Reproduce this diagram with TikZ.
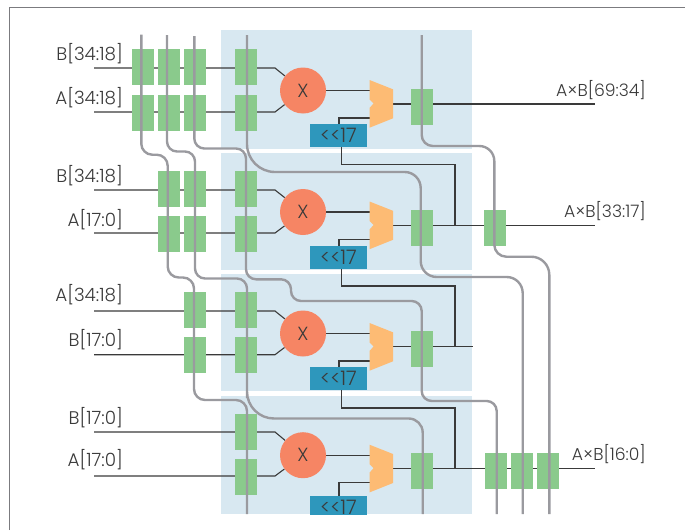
\documentclass[tikz,border=0pt]{standalone}
\usepackage{fontspec}
\setmainfont{Poppins}[UprightFont=* Light]
\usetikzlibrary{calc}
\pgfdeclarelayer{panellayer}
\pgfdeclarelayer{wirelayer}
\pgfsetlayers{panellayer,wirelayer,main}
\definecolor{panelblue}{HTML}{D8E8F1}
\definecolor{regreen}{HTML}{8ACA8C}
\definecolor{mulred}{HTML}{F68564}
\definecolor{muxorange}{HTML}{FDBB74}
\definecolor{shiftblue}{HTML}{2E97BC}
\definecolor{busgray}{HTML}{9A9A9F}
\definecolor{inkgray}{HTML}{3A3A3A}
\tikzset{
  x=1pt,y=-1pt,
  panelbox/.style={fill=panelblue,draw=none,inner sep=0,minimum width=251pt,anchor=north west},
  reg/.style={fill=regreen,draw=none,inner sep=0,minimum width=22pt,minimum height=36pt},
  mult/.style={circle,fill=mulred,draw=none,inner sep=0,minimum size=46pt,font=\fontsize{19}{19}\selectfont,text=inkgray},
  shifter/.style={fill=shiftblue,draw=none,inner sep=0,minimum width=57pt,minimum height=23pt,font=\fontsize{20}{20}\selectfont,text=inkgray},
  muxanchor/.style={inner sep=0,minimum width=23.5pt,minimum height=48pt},
  wire/.style={draw=inkgray,line width=1.1pt},
  busl/.style={draw=busgray,line width=2.4pt},
  lab/.style={font=\fontsize{18.3}{19}\selectfont,text=inkgray,inner sep=0},
  labr/.style={font=\fontsize{17.2}{18}\selectfont,text=inkgray,inner sep=0},
}
\begin{document}
\begin{tikzpicture}
\useasboundingbox (0,0) rectangle (685,530);
\draw[busgray!80!black,line width=1pt] (9,530) -- (9,7) -- (685,7);
% panels
\begin{pgfonlayer}{panellayer}
\node[panelbox,minimum height=118.5pt] (p1) at (221,30) {};
\node[panelbox,minimum height=117pt] (p2) at (221,153) {};
\node[panelbox,minimum height=117pt] (p3) at (221,274) {};
\node[panelbox,minimum height=118.3pt] (p4) at (221,395.7) {};
\end{pgfonlayer}
% input-side registers
\foreach \nm/\xx/\yy in {a1/143/67,a2/169/67,a3/195/67,b1/143/113,b2/169/113,b3/195/113,
  c2/169/189,c3/195/189,d2/169/234,d3/195/234,e3/195/310,f3/195/355}
  {\node[reg] (\nm) at (\xx,\yy) {};}
\foreach \nm/\yy in {a4/67,b4/113,c4/189,d4/234,e4/310,f4/355,g4/432,h4/477}
  {\node[reg] (\nm) at (246,\yy) {};}
% multiplier stages
\foreach \n/\dy/\oy/\ry in {1/0/104/107,2/121.5/225.7/228,3/243/346.7/349,4/364.7/468.3/471}{
  \node[mult] (m\n) at (303,90.5+\dy) {X};
  \node[muxanchor] (x\n) at (381.2,104+\dy) {};
  \fill[muxorange] (369.5,80+\dy) -- (393,89.3+\dy) -- (393,118.3+\dy) -- (369.5,127.7+\dy)
     -- (369.5,108+\dy) -- (373.5,103.5+\dy) -- (369.5,99.5+\dy) -- cycle;
  \node[reg] (o\n) at (422,\ry) {};
  \coordinate (oe\n) at (393,\oy);
  \coordinate (mu\n) at (369.5,90.5+\dy);
  \coordinate (ml\n) at (369.5,118+\dy);
}
\node[shifter] (s1) at (338.5,135.5) {<{}<17};
\node[shifter] (s2) at (338.5,257.5) {<{}<17};
\node[shifter] (s3) at (338.5,378.5) {<{}<17};
\begin{scope}
\clip (300,490) rectangle (380,514);
\node[shifter] (s4) at (338.5,507.5) {<{}<17};
\end{scope}
% output registers
\node[reg] (r2) at (495,228) {};
\node[reg] (t1) at (496,471) {};
\node[reg] (t2) at (522,471) {};
\node[reg] (t3) at (548,471) {};
% free ends
\foreach \nm/\xx/\yy in {ia/94/68,ib/94/112,ic/94/190,id/94/233,ie/94/311,if/94/354.7,ig/94/432,ih/94/476,
  oa/595/104,ob/595/225.7,oc/473/346.7,od/595/468.3,
  ja/455/225.7,jb/455/346.7,jc/455/468.3}
  {\coordinate (\nm) at (\xx,\yy);}
% wires
\begin{pgfonlayer}{wirelayer}
\foreach \i/\nm/\mm in {ia/68/m1,ib/112/m1,ic/190/m2,id/233/m2,ie/311/m3,if/354.7/m3,ig/432/m4,ih/476/m4}{
  \draw[wire] (\i) -- (275,\nm) -- (\mm);
}
\foreach \n in {1,2,3,4}{
  \draw[wire] (m\n) -- (mu\n);
  \draw[wire] (s\n.north -| 339,0) -- (ml\n -| 339,0) -- (ml\n);
}
\draw[wire] (oe1) -- (oa);
\draw[wire] (oe2) -- (ob);
\draw[wire] (oe3) -- (oc);
\draw[wire] (oe4) -- (od);
\draw[wire] (s1.south -| 341.5,0) -- (341.5,164.5) -- (455,164.5) -- (ja);
\draw[wire] (s2.south -| 341.5,0) -- (341.5,286) -- (455,286) -- (jb);
\draw[wire] (s3.south -| 341.5,0) -- (341.5,408) -- (455,408) -- (jc);
\end{pgfonlayer}
% buses
\draw[busl,rounded corners=11pt] (141.3,34.5) -- (141.3,154.7) -- (167.7,154.7) -- (167.7,277.5) -- (194,277.5) -- (194,400) -- (247,400) -- (247,514);
\draw[busl,rounded corners=10pt] (167,35) -- (167,151.5) -- (195,151.5) -- (195,278.5) -- (247,278.5) -- (247,388) [rounded corners=27pt] -- (247,418.5) [rounded corners=14pt] -- (422.7,418.5) -- (422.7,514);
\draw[busl,rounded corners=10pt] (194.3,36) -- (194.3,148.5) -- (246,148.5) -- (246,279.3) -- (291,279.3) -- (291,301) -- (421.7,301) -- (421.7,401) -- (496.7,401) -- (496.7,514);
\draw[busl,rounded corners=28pt] (247,35) -- (247,172) [rounded corners=16pt] -- (420.7,172) -- (420.7,277) -- (522.7,277) -- (522.7,514);
\draw[busl,rounded corners=11pt] (421.7,35) -- (421.7,146) [rounded corners=15pt] -- (494.3,146) [rounded corners=12pt] -- (494.3,256.7) [rounded corners=18pt] -- (549.3,256.7) -- (549.3,514);
% labels
\foreach \t/\yy in {B[34:18]/54,A[34:18]/98,B[34:18]/176,A[17:0]/220,A[34:18]/295,B[17:0]/340,B[17:0]/418,A[17:0]/460}
  {\node[lab,anchor=east] at (123,\yy) {\t};}
\node[labr,anchor=east] at (646,90) {A×B[69:34]};
\node[labr,anchor=east] at (646,211) {A×B[33:17]};
\node[labr,anchor=east] at (646,454) {A×B[16:0]};
\end{tikzpicture}
\end{document}
